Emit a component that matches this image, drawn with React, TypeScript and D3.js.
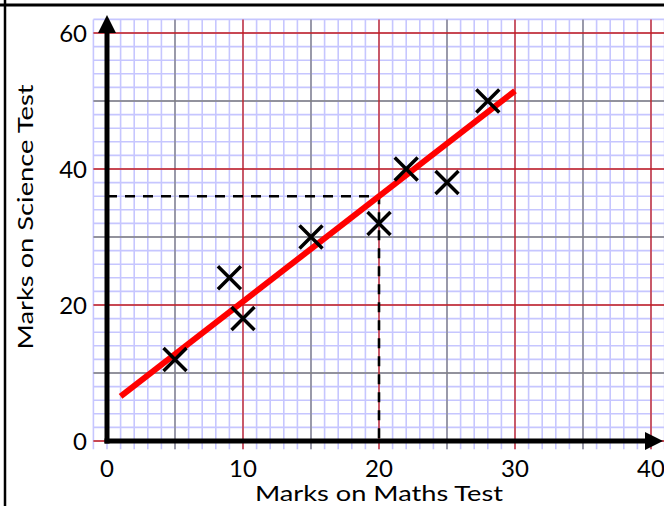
import React from "react";
import * as d3 from "d3";

// Scores of each student: maths (x) and science (y)
const mathsMarks = [5, 9, 10, 15, 20, 22, 25, 28];
const scienceMarks = [12, 24, 18, 30, 32, 40, 38, 50];

// Line of best fit: science = intercept + slope * maths, drawn from x = 1 to 30
const fitIntercept = 5;
const fitSlope = 1.55;
const fitRange = [1, 30];

// Reading taken from the line at maths = 20
const readX = 20;

const xTicks = [0, 10, 20, 30, 40];
const yTicks = [0, 20, 40, 60];

const W = 664;
const H = 506;

export default function App() {
  const x = d3.scaleLinear().domain([0, 40]).range([107, 651]);
  const y = d3.scaleLinear().domain([0, 60]).range([441, 33]);

  const gx0 = -1, gx1 = 41, gy0 = -1.2, gy1 = 62;

  const minorV = d3.range(-1, 42, 1);
  const minorH = d3.range(0, 63, 2);
  const midV = [5, 15, 25, 35];
  const midH = [10, 30, 50];
  const majV = [10, 20, 30, 40];
  const majH = [0, 20, 40, 60];

  const fitLine = d3
    .line<number>()
    .x((d) => x(d))
    .y((d) => y(fitIntercept + fitSlope * d));

  const readY = fitIntercept + fitSlope * readX;
  const font = "Lato, 'Open Sans', sans-serif";
  const cross = 11.5;

  return (
    <svg width={W} height={H} style={{ position: "absolute", left: 0, top: 0, background: "#fff" }}>
      <rect x={0} y={0} width={W} height={H} fill="#fff" />
      {/* frame */}
      <line x1={0} y1={5} x2={W} y2={5} stroke="#000" strokeWidth={3} />
      <line x1={5} y1={0} x2={5} y2={H} stroke="#000" strokeWidth={2.5} />

      {/* graph paper */}
      <g>
        {minorV.map((v) => (
          <line key={"mv" + v} x1={x(v)} x2={x(v)} y1={y(gy0)} y2={y(gy1)} stroke="#c6c6ff" strokeWidth={1.6} />
        ))}
        {minorH.map((v) => (
          <line key={"mh" + v} y1={y(v)} y2={y(v)} x1={x(gx0)} x2={x(gx1)} stroke="#c6c6ff" strokeWidth={1.6} />
        ))}
        {midV.map((v) => (
          <line key={"dv" + v} x1={x(v)} x2={x(v)} y1={y(gy0)} y2={y(gy1)} stroke="#7c7c7c" strokeWidth={1.3} />
        ))}
        {midH.map((v) => (
          <line key={"dh" + v} y1={y(v)} y2={y(v)} x1={x(gx0)} x2={x(gx1)} stroke="#7c7c7c" strokeWidth={1.3} />
        ))}
        {majV.map((v) => (
          <line key={"jv" + v} x1={x(v)} x2={x(v)} y1={y(gy0)} y2={y(gy1)} stroke="#c41a1a" strokeWidth={1.3} />
        ))}
        {majH.map((v) => (
          <line key={"jh" + v} y1={y(v)} y2={y(v)} x1={x(gx0)} x2={x(gx1)} stroke="#c41a1a" strokeWidth={1.3} />
        ))}
      </g>

      {/* reading lines */}
      <path
        d={`M${x(0)},${y(readY)}H${x(readX)}V${y(0)}`}
        fill="none"
        stroke="#000"
        strokeWidth={2.6}
        strokeDasharray="10,8"
      />

      {/* axes with arrowheads */}
      <line x1={x(0)} x2={x(0)} y1={y(0) + 2.5} y2={32} stroke="#000" strokeWidth={5} />
      <path d={`M${x(0)},15L${x(0) + 9},33L${x(0) - 9},33Z`} fill="#000" />
      <line x1={x(0) - 2.5} x2={646} y1={y(0)} y2={y(0)} stroke="#000" strokeWidth={5} />
      <path d={`M663,${y(0)}L645,${y(0) - 9}L645,${y(0) + 9}Z`} fill="#000" />

      {/* best fit */}
      <path d={fitLine(fitRange) || ""} fill="none" stroke="#ff0000" strokeWidth={6} />

      {/* data crosses */}
      {mathsMarks.map((m, i) => {
        const cx = x(m);
        const cy = y(scienceMarks[i]);
        return (
          <path
            key={i}
            d={`M${cx - cross},${cy - cross}L${cx + cross},${cy + cross}M${cx - cross},${cy + cross}L${cx + cross},${cy - cross}`}
            stroke="#000"
            strokeWidth={3.5}
            fill="none"
          />
        );
      })}

      {/* tick labels */}
      {yTicks.map((t) => (
        <text key={"yt" + t} x={87} y={y(t) + 8.5} textAnchor="end" fontFamily={font} fontSize={24} fill="#000">
          {t}
        </text>
      ))}
      {xTicks.map((t) => (
        <text key={"xt" + t} x={x(t)} y={477} textAnchor="middle" fontFamily={font} fontSize={24} fill="#000">
          {t}
        </text>
      ))}

      {/* axis titles */}
      <text x={379} y={501} textAnchor="middle" fontFamily={font} fontSize={21} fill="#000" textLength={248} lengthAdjust="spacingAndGlyphs">
        Marks on Maths Test
      </text>
      <text
        transform={`translate(33,217) rotate(-90)`}
        textAnchor="middle"
        fontFamily={font}
        fontSize={22}
        fill="#000"
        textLength={265}
        lengthAdjust="spacingAndGlyphs"
      >
        Marks on Science Test
      </text>
    </svg>
  );
}
